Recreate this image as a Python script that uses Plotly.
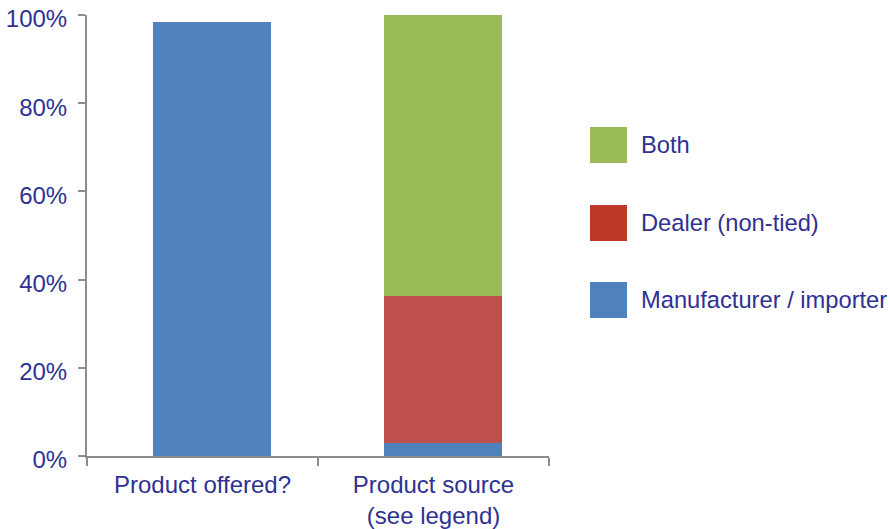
import plotly.graph_objects as go

categories = ["Product offered?", "Product source<br>(see legend)"]
manufacturer = [98.5, 2.9]
dealer = [None, 33.4]
both = [None, 63.7]

series_names = ["Manufacturer / importer", "Dealer (non-tied)", "Both"]
bar_colors = ["#4F81BD", "#C0504D", "#9BBB59"]
legend_colors = ["#4F81BD", "#BC3A27", "#9BBB59"]
y_ticks = [0, 20, 40, 60, 80, 100]
y_tick_text = ["0%", "20%", "40%", "60%", "80%", "100%"]

text_color = "#2E3192"
font_family = "Liberation Sans, Arial, sans-serif"

fig = go.Figure()
for name, vals, col in zip(series_names, [manufacturer, dealer, both], bar_colors):
    fig.add_trace(go.Bar(x=categories, y=vals, name=name, width=0.51, offset=-0.214,
                         marker=dict(color=col, line=dict(width=0)), showlegend=False))

# body margin is removed below, so layout works directly in screenshot pixels
W, H = 890, 529
ml, mt = 87, 15
pw, ph = 462, 441
mr = W - ml - pw
mb = H - mt - ph

def px_x(x):
    return (x - ml) / pw

def px_y(y):
    return (mt + ph - y) / ph

# custom legend (Both on top)
legend_rows = [(series_names[2], legend_colors[2], 145),
               (series_names[1], legend_colors[1], 223),
               (series_names[0], legend_colors[0], 300)]
shapes = []
annotations = []
for name, col, cy in legend_rows:
    shapes.append(dict(type="rect", xref="paper", yref="paper",
                       x0=px_x(590), x1=px_x(627), y0=px_y(cy + 18), y1=px_y(cy - 18),
                       fillcolor=col, line=dict(width=0)))
    annotations.append(dict(xref="paper", yref="paper", x=px_x(639), y=px_y(cy),
                            text=name, showarrow=False, xanchor="left", yanchor="middle",
                            font=dict(size=23.7, color=text_color, family=font_family)))

fig.update_layout(
    barmode="stack",
    width=W, height=H,
    margin=dict(l=ml, r=mr, t=mt, b=mb, autoexpand=False),
    plot_bgcolor="white", paper_bgcolor="white",
    font=dict(family=font_family, size=24, color=text_color),
    shapes=shapes,
    annotations=annotations,
    xaxis=dict(showline=True, linecolor="#8C8C8C", linewidth=2,
               ticks="outside", tickson="boundaries", ticklen=8, tickwidth=2, tickcolor="#8C8C8C",
               showgrid=False, tickfont=dict(size=24, color=text_color), ticklabelstandoff=6),
    yaxis=dict(range=[0, 100], tickvals=y_ticks, ticktext=y_tick_text, showline=True,
               linecolor="#8C8C8C", linewidth=2, ticks="outside", ticklen=7, tickwidth=2,
               tickcolor="#8C8C8C", showgrid=False, zeroline=False,
               tickfont=dict(size=24, color=text_color), ticklabelstandoff=6, ticklabelshift=4,
               ticklabeloverflow="allow"),
)

fig.write_html("out.html", config={"displayModeBar": False},
               post_script="document.body.style.margin='0';document.body.style.overflow='hidden';")
